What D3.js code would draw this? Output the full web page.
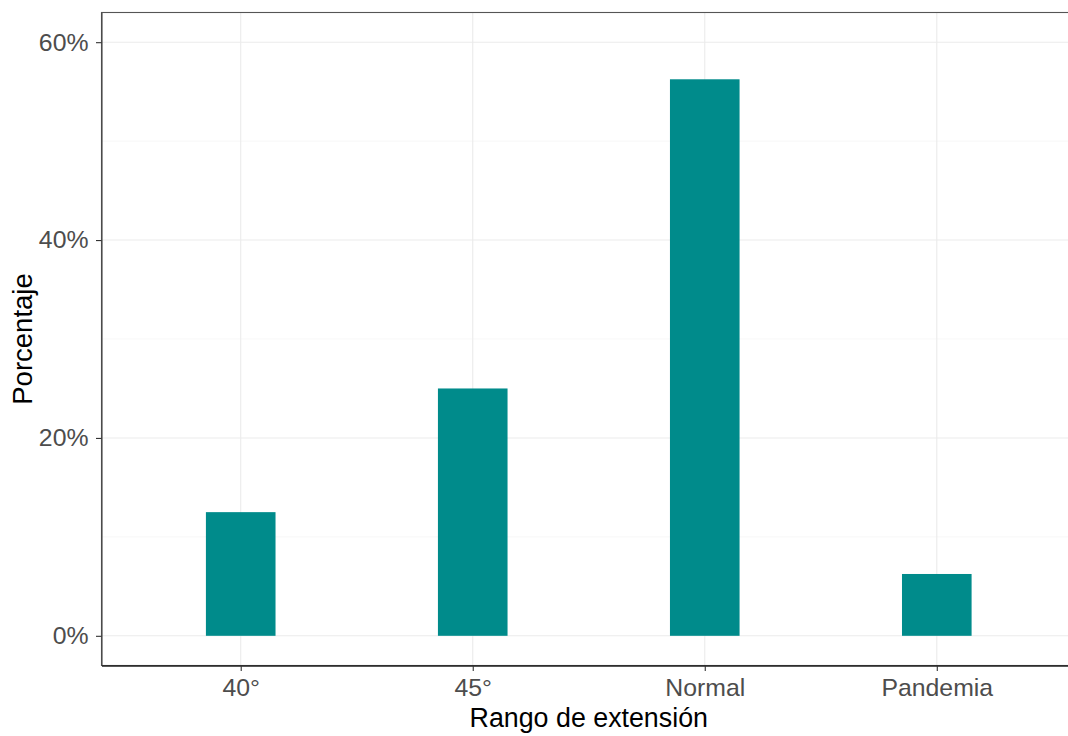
<!DOCTYPE html>
<html>
<head>
<meta charset="utf-8">
<script src="https://cdn.jsdelivr.net/npm/d3@7"></script>
<style>
  html, body { margin: 0; padding: 0; background: #fff; }
  svg { display: block; }
  text { font-family: "Liberation Sans", Arial, sans-serif; }
</style>
</head>
<body>
<svg id="chart" width="1068" height="736"></svg>
<script>
const categories = ["40°", "45°", "Normal", "Pandemia"];
const values = [12.5, 25, 56.25, 6.25];
const yTicks = [0, 20, 40, 60];
const yMinorTicks = [10, 30, 50];
const xTitle = "Rango de extensión";
const yTitle = "Porcentaje";

(function () {
const svg = d3.select("#chart");
const pLeft = 101.5, pRight = 1076, pTop = 12.5, pBottom = 665.5;

const x = d3.scaleLinear().domain([0.4, categories.length + 0.6]).range([pLeft, pRight]);
const y = d3.scaleLinear().domain([-3, 63]).range([pBottom, pTop]);
const barW = 0.3;

const g = svg.append("g");

// minor gridlines
g.selectAll(".minor").data(yMinorTicks).join("line")
  .attr("x1", pLeft).attr("x2", pRight)
  .attr("y1", d => y(d)).attr("y2", d => y(d))
  .attr("stroke", "#F4F4F4").attr("stroke-width", 0.6);

// major gridlines
g.selectAll(".majorY").data(yTicks).join("line")
  .attr("x1", pLeft).attr("x2", pRight)
  .attr("y1", d => y(d)).attr("y2", d => y(d))
  .attr("stroke", "#EBEBEB").attr("stroke-width", 1.1);
g.selectAll(".majorX").data(categories).join("line")
  .attr("x1", (d, i) => x(i + 1)).attr("x2", (d, i) => x(i + 1))
  .attr("y1", pTop).attr("y2", pBottom)
  .attr("stroke", "#EBEBEB").attr("stroke-width", 1.1);

// bars
g.selectAll(".bar").data(values).join("rect")
  .attr("x", (d, i) => x(i + 1 - barW / 2))
  .attr("width", (d, i) => x(i + 1 + barW / 2) - x(i + 1 - barW / 2))
  .attr("y", d => y(d))
  .attr("height", d => y(0) - y(d))
  .attr("fill", "#008B8B");

// panel border
g.append("rect")
  .attr("x", pLeft).attr("y", pTop)
  .attr("width", pRight - pLeft).attr("height", pBottom - pTop)
  .attr("fill", "none").attr("stroke", "#555").attr("stroke-width", 1.1);

// axes
const yAxis = d3.axisLeft(y).tickValues(yTicks).tickSizeInner(5.5).tickSizeOuter(0).tickPadding(7.5).tickFormat(d => d + "%");
const ya = svg.append("g").attr("transform", `translate(${pLeft},0)`).call(yAxis);
ya.select(".domain").attr("stroke", "#444").attr("stroke-width", 1.1);
ya.selectAll(".tick line").attr("stroke", "#333").attr("stroke-width", 1.1);
ya.selectAll(".tick text").attr("fill", "#4D4D4D").style("font-size", "24.8px")
  .attr("font-family", "Liberation Sans, Arial, sans-serif");

const xAxis = d3.axisBottom(x).tickValues(categories.map((d, i) => i + 1)).tickSizeInner(5.5).tickSizeOuter(0).tickPadding(7)
  .tickFormat(d => categories[d - 1]);
const xa = svg.append("g").attr("transform", `translate(0,${pBottom})`).call(xAxis);
xa.select(".domain").attr("stroke", "#222").attr("stroke-width", 1.3);
xa.selectAll(".tick line").attr("stroke", "#333").attr("stroke-width", 1.1);
xa.selectAll(".tick text").attr("fill", "#4D4D4D").style("font-size", "24.8px")
  .attr("font-family", "Liberation Sans, Arial, sans-serif");

// titles
svg.append("text")
  .attr("x", (pLeft + pRight) / 2).attr("y", 727)
  .attr("text-anchor", "middle")
  .style("font-size", "26.8px").attr("fill", "#000")
  .text(xTitle);

svg.append("text")
  .attr("transform", `translate(32,${(pTop + pBottom) / 2}) rotate(-90)`)
  .attr("text-anchor", "middle")
  .style("font-size", "27.5px").attr("fill", "#000")
  .text(yTitle);
})();
</script>
</body>
</html>
